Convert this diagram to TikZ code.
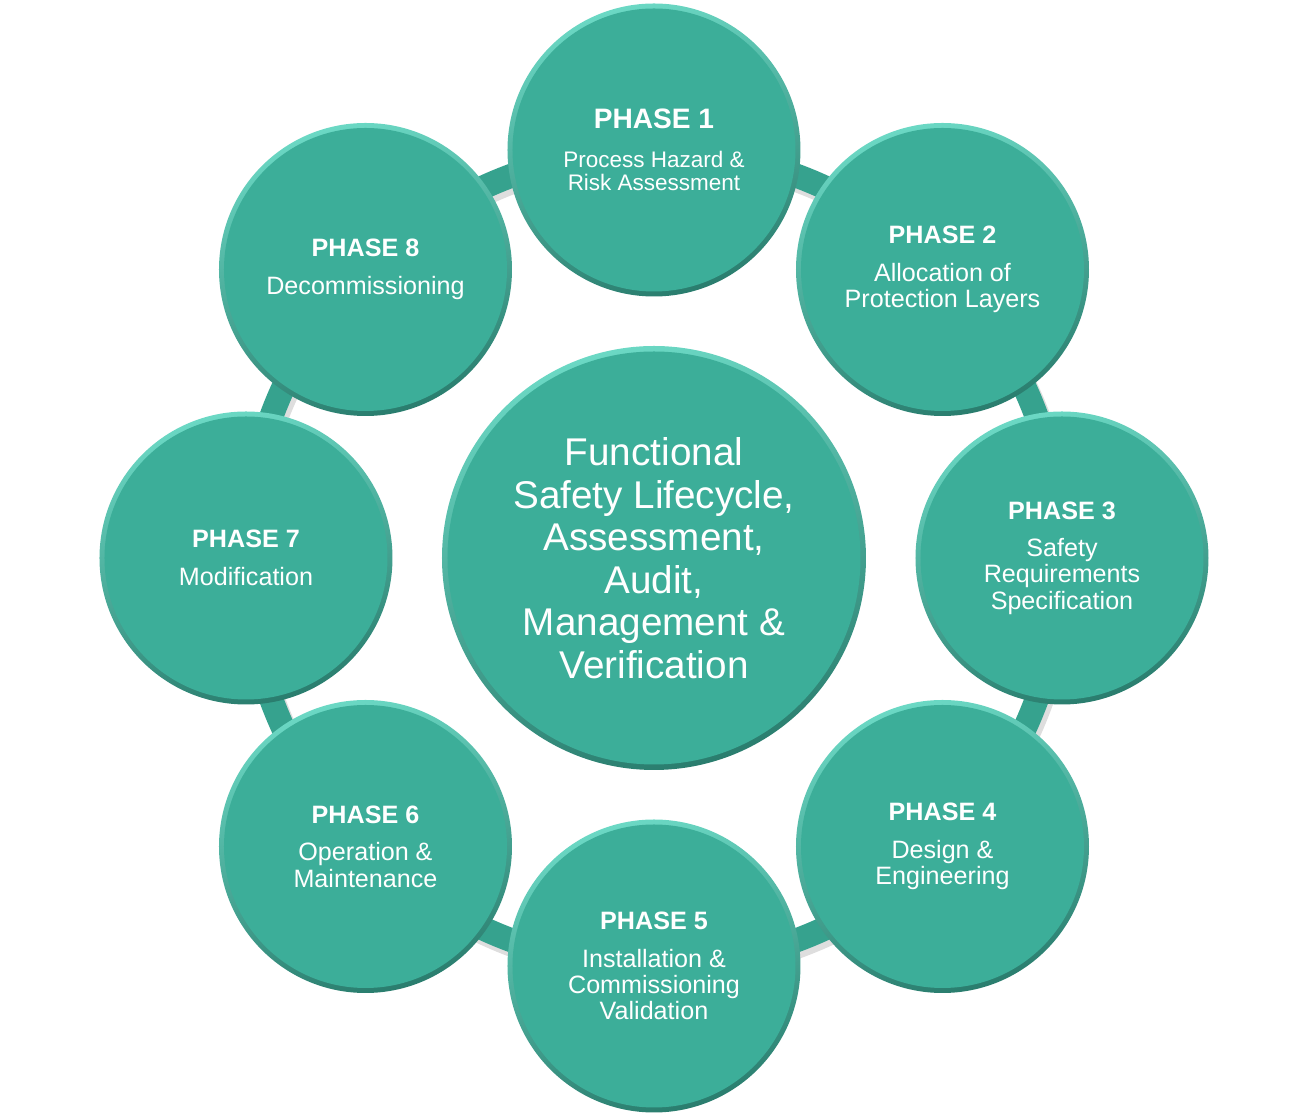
\documentclass[tikz,border=0pt]{standalone}
\usepackage{fontspec}
\setsansfont{Liberation Sans}
\usepackage{tikz}
\usetikzlibrary{
    positioning,
    backgrounds,
    calc
}
\definecolor{discfill}{HTML}{3CAE99}
\definecolor{discedge}{HTML}{2A7D6E}
\definecolor{discshine}{HTML}{6BD8C4}
\definecolor{ringcolor}{HTML}{36A28E}
\definecolor{ringshadow}{HTML}{C8C8C8}
\tikzset{
    phase disc/.style={
        circle, draw=none, minimum size=5.86cm, inner sep=0pt,
        align=center, text=white, font=\sffamily\fontsize{14.3}{14.9}\selectfont,
        top color=discshine, bottom color=discedge, shading angle=15,
        path picture={
            \fill[discfill] (path picture bounding box.center) circle (2.83cm);
        }
    },
    lead disc/.style={
        phase disc, font=\sffamily\fontsize{12.8}{13.2}\selectfont
    },
    hub disc/.style={
        circle, draw=none, minimum size=8.48cm, inner sep=0pt,
        align=center, text=white, font=\sffamily\fontsize{22}{24.2}\selectfont,
        top color=discshine, bottom color=discedge, shading angle=15,
        path picture={
            \fill[discfill] (path picture bounding box.center) circle (4.13cm);
        }
    },
    ring band/.style={
        line width=0.48cm, color=ringcolor
    },
    ring shade/.style={
        line width=0.5cm, color=ringshadow, opacity=0.6
    },
}
\newcommand{\phasetitle}[1]{{\sffamily\bfseries\fontsize{14.3}{14.3}\selectfont #1}\\[6.5pt]}
\newcommand{\leadtitle}[1]{{\sffamily\bfseries\fontsize{16}{16}\selectfont #1}\\[9pt]}

\begin{document}
\begin{tikzpicture}
    \useasboundingbox (-13.08,-11.22) rectangle (13.06,11.16);

    % Centre
    \node[hub disc] (hub) at (0,0) {Functional\\Safety Lifecycle,\\Assessment,\\Audit,\\Management \&\\Verification};

    % Phases round the ring
    \node[lead disc]  (p1) at (90:8.16)  {\leadtitle{PHASE 1}Process Hazard \&\\Risk Assessment};
    \node[phase disc] (p2) at (45:8.16)  {\phasetitle{PHASE 2}Allocation of\\Protection Layers};
    \node[phase disc] (p3) at (0:8.16)   {\phasetitle{PHASE 3}Safety\\Requirements\\Specification};
    \node[phase disc] (p4) at (-45:8.16) {\phasetitle{PHASE 4}Design \&\\Engineering};
    \node[phase disc] (p5) at (-90:8.16) {\phasetitle{PHASE 5}Installation \&\\Commissioning\\Validation};
    \node[phase disc] (p6) at (-135:8.16) {\phasetitle{PHASE 6}Operation \&\\Maintenance};
    \node[phase disc] (p7) at (180:8.16) {\phasetitle{PHASE 7}Modification};
    \node[phase disc] (p8) at (135:8.16) {\phasetitle{PHASE 8}Decommissioning};

    % Ring linking the phases
    \begin{scope}[on background layer]
        \foreach \from/\to/\ang in {p1/p2/90, p2/p3/45, p3/p4/0, p4/p5/-45, p5/p6/-90, p6/p7/-135, p7/p8/180, p8/p1/135} {
            \draw[ring shade] ($(\from.center)+(0.06,-0.1)$) arc[start angle=\ang, delta angle=-45, radius=8.16cm];
            \draw[ring band] (\from.center) arc[start angle=\ang, delta angle=-45, radius=8.16cm];
        }
    \end{scope}

\end{tikzpicture}
\end{document}
